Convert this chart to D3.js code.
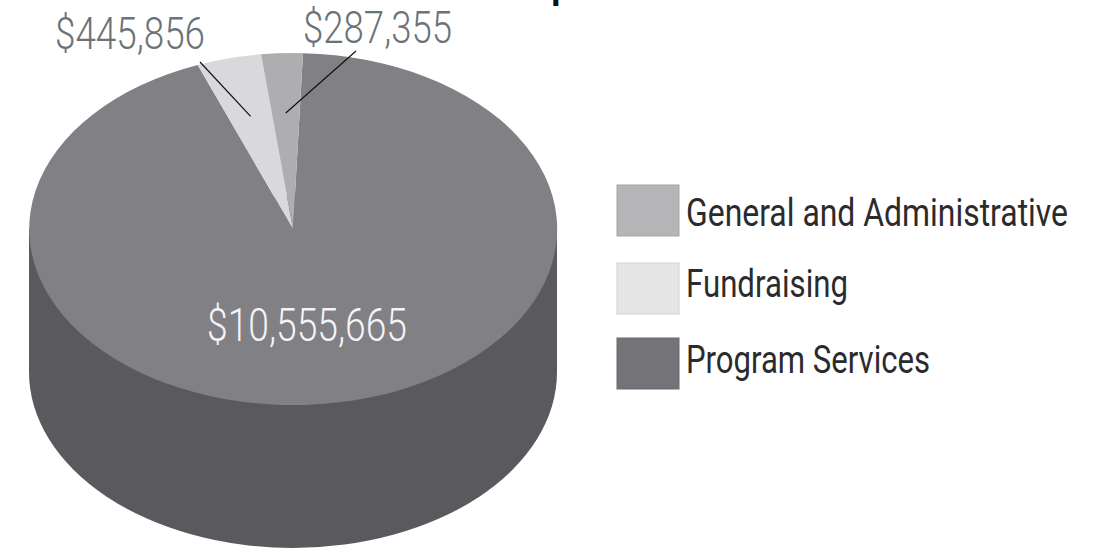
<!DOCTYPE html>
<html>
<head>
<meta charset="utf-8">
<script src="https://cdn.jsdelivr.net/npm/d3@7"></script>
<style>
  html, body { margin: 0; padding: 0; background: #ffffff; }
  svg { display: block; }
</style>
</head>
<body>
<svg id="chart" width="1111" height="550"></svg>
<script>
// ---- data ----
const title = "Expenses";
const categories = ["General and Administrative", "Fundraising", "Program Services"];
const values = [287355, 445856, 10555665];
const valueLabels = ["$287,355", "$445,856", "$10,555,665"];
const topColors = ["#aeaeb1", "#d9d9dc", "#808085"];
const legendColors = ["#b5b5b7", "#e5e5e6", "#747378"];
const sideColor = "#5a595e";

// ---- layout ----
const W = 1111, H = 550;
const cx = 293, cy = 229, rx = 264, ry = 176, depth = 143;
const startDeg = 2.2;

const svg = d3.select("#chart");

// title (cut off at top of frame; only the descender of "p" shows)
const t = svg.append("text")
  .attr("x", 0).attr("y", -3.2)
  .attr("font-family", "Roboto, 'Liberation Sans', sans-serif")
  .attr("font-size", 42).attr("font-weight", 500)
  .attr("fill", "#111")
  .text(title);
const pStart = t.node().getStartPositionOfChar(2).x;
t.attr("x", 554 - pStart - 42 * 0.075);

// pie layout: drawn clockwise from 12 o'clock: Program, Fundraising, G&A
const data = categories.map((c, i) => ({ cat: c, value: values[i], top: topColors[i], label: valueLabels[i] }));
const pieData = d3.pie().sort(null).value(d => d.value)
  .startAngle(startDeg * Math.PI / 180)
  .endAngle(startDeg * Math.PI / 180 + 2 * Math.PI)([data[2], data[1], data[0]]);

// side (3D wall)
const g = svg.append("g");
const unitArc = d3.arc().innerRadius(0).outerRadius(1);
g.append("path")
  .attr("d", unitArc({ startAngle: 0, endAngle: 2 * Math.PI }))
  .attr("transform", `translate(${cx},${cy + depth}) scale(${rx},${ry})`)
  .attr("fill", sideColor);
g.append("rect")
  .attr("x", cx - rx).attr("y", cy)
  .attr("width", 2 * rx).attr("height", depth)
  .attr("fill", sideColor);

// top slices
g.selectAll("path.slice").data(pieData).join("path")
  .attr("class", "slice")
  .attr("d", unitArc)
  .attr("transform", `translate(${cx},${cy}) scale(${rx},${ry})`)
  .attr("fill", d => d.data.top);

// helper: position on top ellipse for angle & radial fraction
function onTop(angle, f) {
  return [cx + rx * f * Math.sin(angle), cy - ry * f * Math.cos(angle)];
}
const byCat = {};
pieData.forEach(d => byCat[d.data.cat] = d);

const labelFont = "Roboto, 'Liberation Sans', sans-serif";
function fitText(sel, x, y, size, width, color, txt, weight) {
  return sel.append("text")
    .attr("x", x).attr("y", y)
    .attr("font-family", labelFont)
    .attr("font-size", size)
    .attr("font-weight", weight || 300)
    .attr("fill", color)
    .attr("textLength", width)
    .attr("lengthAdjust", "spacingAndGlyphs")
    .text(txt);
}

// outside labels with leader lines
const outside = [
  { cat: "Fundraising", x: 55, y: 49, w: 150, lx: 200, ly: 62 },
  { cat: "General and Administrative", x: 303, y: 43, w: 149, lx: 356, ly: 51 }
];
outside.forEach(o => {
  const d = byCat[o.cat];
  const mid = (d.startAngle + d.endAngle) / 2;
  const p = onTop(mid, 0.66);
  svg.append("line")
    .attr("x1", o.lx).attr("y1", o.ly)
    .attr("x2", p[0]).attr("y2", p[1])
    .attr("stroke", "#111").attr("stroke-width", 1.2);
  fitText(svg, o.x, o.y, 45, o.w, "#6b7378", d.data.label);
});

// inside label
fitText(svg, 207, 341, 46, 200, "#f4f4f6", byCat["Program Services"].data.label);

// legend
const legendY = [185, 263, 338];
const legendBase = [226, 297, 373];
const legendW = [382, 162, 244];
const lg = svg.append("g");
categories.forEach((c, i) => {
  lg.append("rect")
    .attr("x", 617).attr("y", legendY[i])
    .attr("width", 62).attr("height", 51)
    .attr("fill", legendColors[i])
    .attr("stroke", d3.color(legendColors[i]).darker(0.25))
    .attr("stroke-width", 1);
  fitText(lg, 686, legendBase[i], 38, legendW[i], "#2b2b2d", c, 400);
});
</script>
</body>
</html>
